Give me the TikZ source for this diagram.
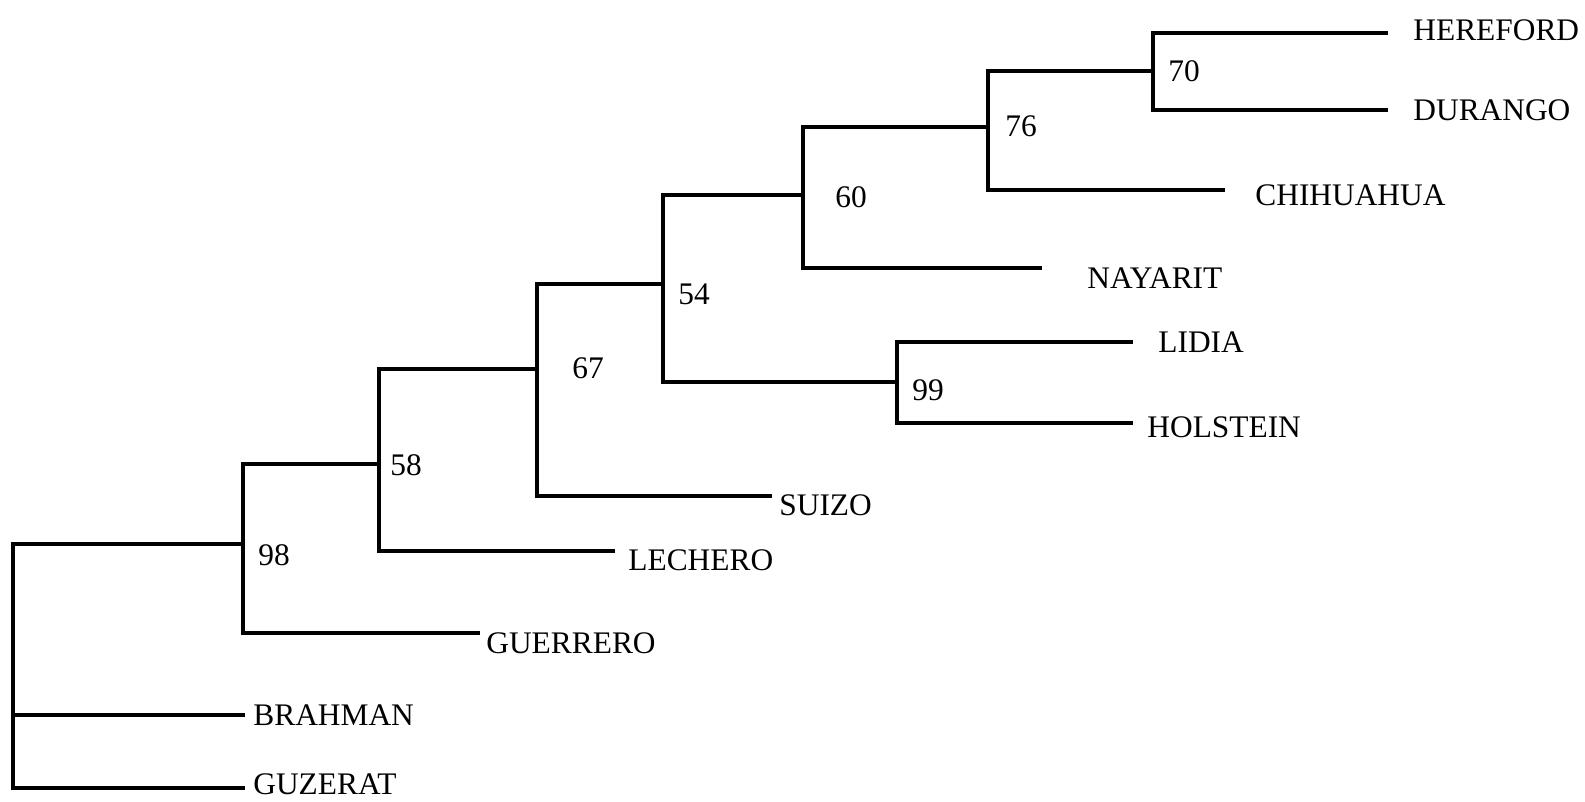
\documentclass[tikz,border=0pt]{standalone}
\usepackage{fontspec}
\setmainfont{Liberation Serif}
\begin{document}
\begin{tikzpicture}[x=0.5pt,y=-0.5pt,
  branch/.style={line width=1.7pt, line join=miter},
  taxon/.style={anchor=west, inner sep=0pt, font=\fontsize{15.7}{18}\selectfont},
  support/.style={anchor=west, inner sep=0pt, font=\fontsize{15.7}{18}\selectfont}]
\useasboundingbox (0,0) rectangle (1585,802);

% internal nodes (x of the vertical bar, y where the parent joins)
\coordinate (root) at (13,600);
\coordinate (n98) at (243,544);
\coordinate (n58) at (379,464);
\coordinate (n67) at (537,369);
\coordinate (n54) at (663,284);
\coordinate (n60) at (803,195);
\coordinate (n76) at (988,127);
\coordinate (n70) at (1153,71);
\coordinate (n99) at (897,382);

% branch tips
\coordinate (tHereford) at (1388,33);
\coordinate (tDurango) at (1388,110);
\coordinate (tChihuahua) at (1225,190);
\coordinate (tNayarit) at (1042,268);
\coordinate (tLidia) at (1133,342);
\coordinate (tHolstein) at (1133,423);
\coordinate (tSuizo) at (772,496);
\coordinate (tLechero) at (615,551);
\coordinate (tGuerrero) at (480,633);
\coordinate (tBrahman) at (245,715);
\coordinate (tGuzerat) at (245,788);

% tree
\draw[branch] (root) |- (n98);
\draw[branch] (root) |- (tBrahman);
\draw[branch] (root) |- (tGuzerat);
\draw[branch] (n98) |- (n58);
\draw[branch] (n98) |- (tGuerrero);
\draw[branch] (n58) |- (n67);
\draw[branch] (n58) |- (tLechero);
\draw[branch] (n67) |- (n54);
\draw[branch] (n67) |- (tSuizo);
\draw[branch] (n54) |- (n60);
\draw[branch] (n54) |- (n99);
\draw[branch] (n60) |- (n76);
\draw[branch] (n60) |- (tNayarit);
\draw[branch] (n76) |- (n70);
\draw[branch] (n76) |- (tChihuahua);
\draw[branch] (n70) |- (tHereford);
\draw[branch] (n70) |- (tDurango);
\draw[branch] (n99) |- (tLidia);
\draw[branch] (n99) |- (tHolstein);

% taxon names
\node[taxon] (lHereford) at (1413,30) {HEREFORD};
\node[taxon] (lDurango) at (1413,110) {DURANGO};
\node[taxon] (lChihuahua) at (1255,195) {CHIHUAHUA};
\node[taxon] (lNayarit) at (1087,278) {NAYARIT};
\node[taxon] (lLidia) at (1158,342) {LIDIA};
\node[taxon] (lHolstein) at (1147,427) {HOLSTEIN};
\node[taxon] (lSuizo) at (779,505) {SUIZO};
\node[taxon] (lLechero) at (628,560) {LECHERO};
\node[taxon] (lGuerrero) at (486,643) {GUERRERO};
\node[taxon] (lBrahman) at (253,715) {BRAHMAN};
\node[taxon] (lGuzerat) at (253,784) {GUZERAT};

% bootstrap values
\node[support] (s98) at (258,555) {98};
\node[support] (s58) at (390,465) {58};
\node[support] (s67) at (572,368) {67};
\node[support] (s54) at (678,294) {54};
\node[support] (s60) at (835,197) {60};
\node[support] (s99) at (912,390) {99};
\node[support] (s76) at (1005,126) {76};
\node[support] (s70) at (1168,71) {70};
\end{tikzpicture}
\end{document}
